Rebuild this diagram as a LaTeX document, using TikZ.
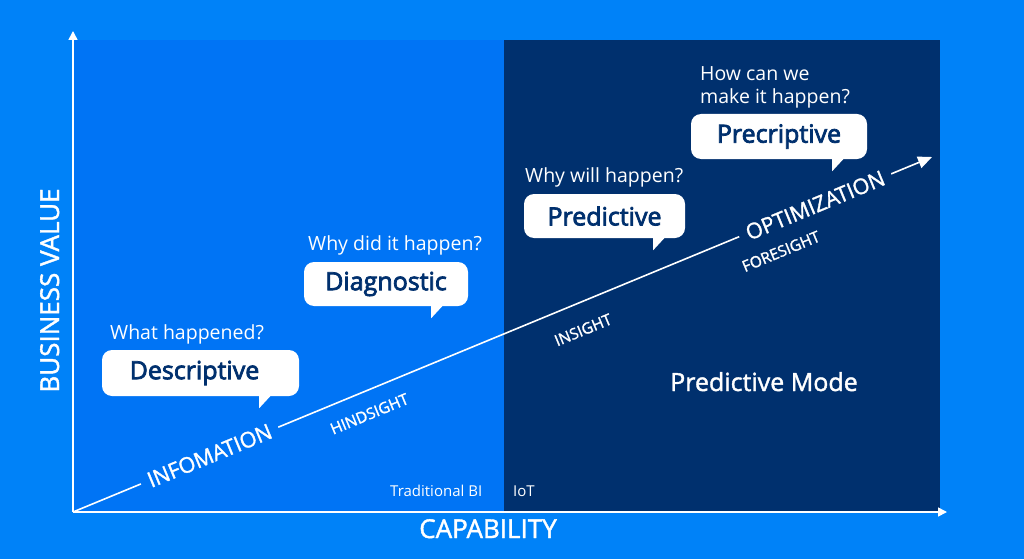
\documentclass[tikz,border=0pt]{standalone}
\usepackage{fontspec}
\setmainfont{Open Sans}
\newfontfamily\heavyfont{Open Sans}[FakeBold=3]
\newfontfamily\midfont{Open Sans}[FakeBold=1.5]
\usetikzlibrary{arrows.meta}

\definecolor{skyblue}{RGB}{0,130,248}
\definecolor{panelblue}{RGB}{0,116,245}
\definecolor{navyblue}{RGB}{0,48,110}

\tikzset{
  bubble/.style={fill=white, rounded corners=10pt, text=navyblue, inner sep=0pt,
    font=\heavyfont\fontsize{25}{28}\selectfont},
  question/.style={text=white, inner sep=0pt, anchor=base west,
    font=\fontsize{19.5}{23}\selectfont, align=left},
  axislabel/.style={text=white, inner sep=0pt, anchor=base, font=\midfont\fontsize{26}{30}\selectfont},
  smalllabel/.style={text=white, inner sep=0pt, anchor=base west, font=\fontsize{15}{18}\selectfont},
  stagelabel/.style={text=white, sloped, inner sep=0pt, font=\midfont\fontsize{15.5}{18}\selectfont},
  phaselabel/.style={text=white, sloped, inner xsep=8pt, inner ysep=2pt, font=\midfont\fontsize{21.5}{25}\selectfont},
  axis/.style={white, line width=1.6pt, -{Triangle[length=9pt,width=9pt]}},
  trend/.style={white, line width=1.6pt, -{Triangle[length=14pt,width=12pt]}},
}

% speech bubble tail under a bubble node
\newcommand\bubbletail[2]{%
  \fill[white] ([xshift=-#2pt,yshift=1pt]#1.south east) -- ++(0,13) -- ++(12,-13) -- cycle;}

\begin{document}
\begin{tikzpicture}[x=1pt, y=-1pt]
  % background and panels
  \fill[skyblue] (0,0) rectangle (1024,559);
  \useasboundingbox (0,0) rectangle (1024,559);
  \fill[panelblue] (73,40) rectangle (505,512);
  \fill[navyblue] (504,40) rectangle (940,512);

  \coordinate (origin) at (73,512);
  \coordinate (ytip) at (73,31);
  \coordinate (xtip) at (947,512);
  \coordinate (growth) at (932,157);

  % axes
  \draw[axis] (origin) -- (ytip);
  \draw[axis] (origin) -- (xtip);

  \node[axislabel] (capability) at (488,538) {CAPABILITY};
  \node[axislabel, rotate=90] (value) at (59,290.5) {BUSINESS VALUE};

  \node[smalllabel] (tradbi) at (390,496) {Traditional BI};
  \node[smalllabel] (iot) at (513,496) {IoT};

  % trend line
  \draw[trend] (origin)
    -- node[phaselabel, fill=panelblue, pos=0.159] (info) {INFOMATION}
       node[stagelabel, below=16pt, pos=0.335] (hind) {HINDSIGHT}
       node[stagelabel, below=20pt, pos=0.582] (ins) {INSIGHT}
       node[stagelabel, below=23pt, pos=0.811] (fore) {FORESIGHT}
       node[phaselabel, fill=navyblue, pos=0.864] (opt) {OPTIMIZATION}
    (growth);

  % bubbles
  \node[bubble, minimum width=197pt, minimum height=46pt] (desc) at (200.5,373) {Descriptive\hspace*{12pt}};
  \bubbletail{desc}{40}
  \node[question] (qdesc) at (110,339) {What happened?};

  \node[bubble, minimum width=164pt, minimum height=44pt] (diag) at (386,284) {Diagnostic};
  \bubbletail{diag}{37}
  \node[question] (qdiag) at (308,250) {Why did it happen?};

  \node[bubble, minimum width=161pt, minimum height=44pt] (pred) at (604.5,216) {Predictive};
  \bubbletail{pred}{32}
  \node[question] (qpred) at (525,182) {Why will happen?};

  \node[bubble, minimum width=176pt, minimum height=45pt] (presc) at (779,136.5) {Precriptive};
  \bubbletail{presc}{35}
  \node[question] (qpresc) at (700,103) {How can we\\make it happen?};

  \node[text=white, anchor=base, font=\midfont\fontsize{25}{29}\selectfont] (mode) at (764,391) {Predictive Mode};
\end{tikzpicture}
\end{document}
